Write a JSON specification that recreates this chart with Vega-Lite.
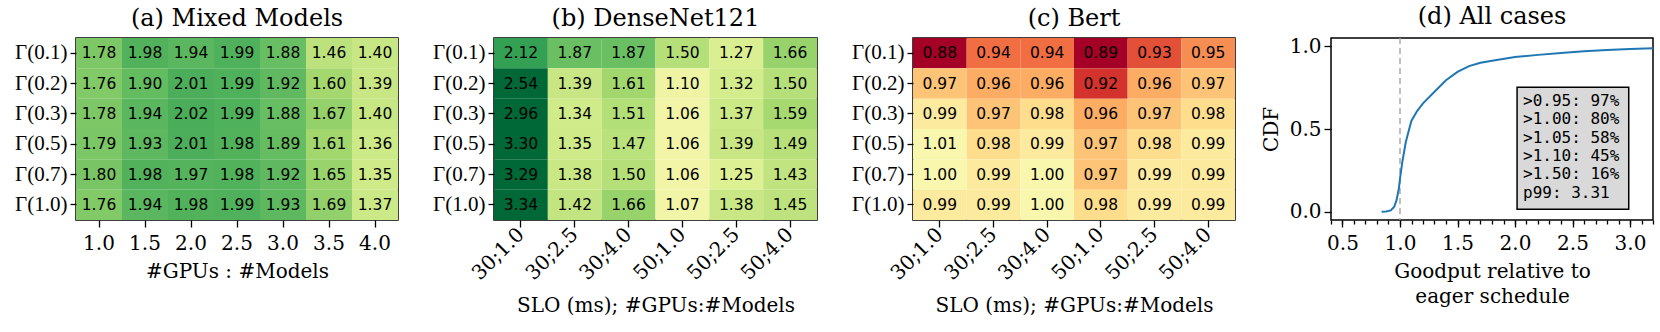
{
  "$schema": "https://vega.github.io/schema/vega-lite/v6.json",
  "background": "white",
  "padding": {"left": 13, "top": 4, "right": 2, "bottom": 2},
  "bounds": "flush",
  "spacing": 96,
  "config": {
    "view": {"stroke": "black", "strokeWidth": 1.5},
    "title": {"font": "DejaVu Serif", "fontSize": 24, "fontWeight": "normal", "color": "black", "offset": 7, "frame": "group"},
    "axis": {"labelFont": "DejaVu Serif", "labelFontSize": 20, "labelColor": "black", "titleFont": "DejaVu Serif", "titleFontSize": 20, "titleFontWeight": "normal", "titleColor": "black", "tickColor": "black", "tickWidth": 1.3, "tickSize": 6, "domain": false, "grid": false, "labelPadding": 3},
    "axisX": {"tickSize": 7, "labelPadding": 6, "titlePadding": 8}
  },
  "datasets": {
    "a": [
      {"row": "Γ(0.1)", "col": "1.0", "v": 1.78}, {"row": "Γ(0.1)", "col": "1.5", "v": 1.98}, {"row": "Γ(0.1)", "col": "2.0", "v": 1.94}, {"row": "Γ(0.1)", "col": "2.5", "v": 1.99}, {"row": "Γ(0.1)", "col": "3.0", "v": 1.88}, {"row": "Γ(0.1)", "col": "3.5", "v": 1.46}, {"row": "Γ(0.1)", "col": "4.0", "v": 1.40},
      {"row": "Γ(0.2)", "col": "1.0", "v": 1.76}, {"row": "Γ(0.2)", "col": "1.5", "v": 1.90}, {"row": "Γ(0.2)", "col": "2.0", "v": 2.01}, {"row": "Γ(0.2)", "col": "2.5", "v": 1.99}, {"row": "Γ(0.2)", "col": "3.0", "v": 1.92}, {"row": "Γ(0.2)", "col": "3.5", "v": 1.60}, {"row": "Γ(0.2)", "col": "4.0", "v": 1.39},
      {"row": "Γ(0.3)", "col": "1.0", "v": 1.78}, {"row": "Γ(0.3)", "col": "1.5", "v": 1.94}, {"row": "Γ(0.3)", "col": "2.0", "v": 2.02}, {"row": "Γ(0.3)", "col": "2.5", "v": 1.99}, {"row": "Γ(0.3)", "col": "3.0", "v": 1.88}, {"row": "Γ(0.3)", "col": "3.5", "v": 1.67}, {"row": "Γ(0.3)", "col": "4.0", "v": 1.40},
      {"row": "Γ(0.5)", "col": "1.0", "v": 1.79}, {"row": "Γ(0.5)", "col": "1.5", "v": 1.93}, {"row": "Γ(0.5)", "col": "2.0", "v": 2.01}, {"row": "Γ(0.5)", "col": "2.5", "v": 1.98}, {"row": "Γ(0.5)", "col": "3.0", "v": 1.89}, {"row": "Γ(0.5)", "col": "3.5", "v": 1.61}, {"row": "Γ(0.5)", "col": "4.0", "v": 1.36},
      {"row": "Γ(0.7)", "col": "1.0", "v": 1.80}, {"row": "Γ(0.7)", "col": "1.5", "v": 1.98}, {"row": "Γ(0.7)", "col": "2.0", "v": 1.97}, {"row": "Γ(0.7)", "col": "2.5", "v": 1.98}, {"row": "Γ(0.7)", "col": "3.0", "v": 1.92}, {"row": "Γ(0.7)", "col": "3.5", "v": 1.65}, {"row": "Γ(0.7)", "col": "4.0", "v": 1.35},
      {"row": "Γ(1.0)", "col": "1.0", "v": 1.76}, {"row": "Γ(1.0)", "col": "1.5", "v": 1.94}, {"row": "Γ(1.0)", "col": "2.0", "v": 1.98}, {"row": "Γ(1.0)", "col": "2.5", "v": 1.99}, {"row": "Γ(1.0)", "col": "3.0", "v": 1.93}, {"row": "Γ(1.0)", "col": "3.5", "v": 1.69}, {"row": "Γ(1.0)", "col": "4.0", "v": 1.37}
    ],
    "b": [
      {"row": "Γ(0.1)", "col": "30;1.0", "v": 2.12}, {"row": "Γ(0.1)", "col": "30;2.5", "v": 1.87}, {"row": "Γ(0.1)", "col": "30;4.0", "v": 1.87}, {"row": "Γ(0.1)", "col": "50;1.0", "v": 1.50}, {"row": "Γ(0.1)", "col": "50;2.5", "v": 1.27}, {"row": "Γ(0.1)", "col": "50;4.0", "v": 1.66},
      {"row": "Γ(0.2)", "col": "30;1.0", "v": 2.54}, {"row": "Γ(0.2)", "col": "30;2.5", "v": 1.39}, {"row": "Γ(0.2)", "col": "30;4.0", "v": 1.61}, {"row": "Γ(0.2)", "col": "50;1.0", "v": 1.10}, {"row": "Γ(0.2)", "col": "50;2.5", "v": 1.32}, {"row": "Γ(0.2)", "col": "50;4.0", "v": 1.50},
      {"row": "Γ(0.3)", "col": "30;1.0", "v": 2.96}, {"row": "Γ(0.3)", "col": "30;2.5", "v": 1.34}, {"row": "Γ(0.3)", "col": "30;4.0", "v": 1.51}, {"row": "Γ(0.3)", "col": "50;1.0", "v": 1.06}, {"row": "Γ(0.3)", "col": "50;2.5", "v": 1.37}, {"row": "Γ(0.3)", "col": "50;4.0", "v": 1.59},
      {"row": "Γ(0.5)", "col": "30;1.0", "v": 3.30}, {"row": "Γ(0.5)", "col": "30;2.5", "v": 1.35}, {"row": "Γ(0.5)", "col": "30;4.0", "v": 1.47}, {"row": "Γ(0.5)", "col": "50;1.0", "v": 1.06}, {"row": "Γ(0.5)", "col": "50;2.5", "v": 1.39}, {"row": "Γ(0.5)", "col": "50;4.0", "v": 1.49},
      {"row": "Γ(0.7)", "col": "30;1.0", "v": 3.29}, {"row": "Γ(0.7)", "col": "30;2.5", "v": 1.38}, {"row": "Γ(0.7)", "col": "30;4.0", "v": 1.50}, {"row": "Γ(0.7)", "col": "50;1.0", "v": 1.06}, {"row": "Γ(0.7)", "col": "50;2.5", "v": 1.25}, {"row": "Γ(0.7)", "col": "50;4.0", "v": 1.43},
      {"row": "Γ(1.0)", "col": "30;1.0", "v": 3.34}, {"row": "Γ(1.0)", "col": "30;2.5", "v": 1.42}, {"row": "Γ(1.0)", "col": "30;4.0", "v": 1.66}, {"row": "Γ(1.0)", "col": "50;1.0", "v": 1.07}, {"row": "Γ(1.0)", "col": "50;2.5", "v": 1.38}, {"row": "Γ(1.0)", "col": "50;4.0", "v": 1.45}
    ],
    "c": [
      {"row": "Γ(0.1)", "col": "30;1.0", "v": 0.88}, {"row": "Γ(0.1)", "col": "30;2.5", "v": 0.94}, {"row": "Γ(0.1)", "col": "30;4.0", "v": 0.94}, {"row": "Γ(0.1)", "col": "50;1.0", "v": 0.89}, {"row": "Γ(0.1)", "col": "50;2.5", "v": 0.93}, {"row": "Γ(0.1)", "col": "50;4.0", "v": 0.95},
      {"row": "Γ(0.2)", "col": "30;1.0", "v": 0.97}, {"row": "Γ(0.2)", "col": "30;2.5", "v": 0.96}, {"row": "Γ(0.2)", "col": "30;4.0", "v": 0.96}, {"row": "Γ(0.2)", "col": "50;1.0", "v": 0.92}, {"row": "Γ(0.2)", "col": "50;2.5", "v": 0.96}, {"row": "Γ(0.2)", "col": "50;4.0", "v": 0.97},
      {"row": "Γ(0.3)", "col": "30;1.0", "v": 0.99}, {"row": "Γ(0.3)", "col": "30;2.5", "v": 0.97}, {"row": "Γ(0.3)", "col": "30;4.0", "v": 0.98}, {"row": "Γ(0.3)", "col": "50;1.0", "v": 0.96}, {"row": "Γ(0.3)", "col": "50;2.5", "v": 0.97}, {"row": "Γ(0.3)", "col": "50;4.0", "v": 0.98},
      {"row": "Γ(0.5)", "col": "30;1.0", "v": 1.01}, {"row": "Γ(0.5)", "col": "30;2.5", "v": 0.98}, {"row": "Γ(0.5)", "col": "30;4.0", "v": 0.99}, {"row": "Γ(0.5)", "col": "50;1.0", "v": 0.97}, {"row": "Γ(0.5)", "col": "50;2.5", "v": 0.98}, {"row": "Γ(0.5)", "col": "50;4.0", "v": 0.99},
      {"row": "Γ(0.7)", "col": "30;1.0", "v": 1.00}, {"row": "Γ(0.7)", "col": "30;2.5", "v": 0.99}, {"row": "Γ(0.7)", "col": "30;4.0", "v": 1.00}, {"row": "Γ(0.7)", "col": "50;1.0", "v": 0.97}, {"row": "Γ(0.7)", "col": "50;2.5", "v": 0.99}, {"row": "Γ(0.7)", "col": "50;4.0", "v": 0.99},
      {"row": "Γ(1.0)", "col": "30;1.0", "v": 0.99}, {"row": "Γ(1.0)", "col": "30;2.5", "v": 0.99}, {"row": "Γ(1.0)", "col": "30;4.0", "v": 1.00}, {"row": "Γ(1.0)", "col": "50;1.0", "v": 0.98}, {"row": "Γ(1.0)", "col": "50;2.5", "v": 0.99}, {"row": "Γ(1.0)", "col": "50;4.0", "v": 0.99}
    ],
    "cdf": [
      {"x": 0.84, "p": 0.0}, {"x": 0.88, "p": 0.002}, {"x": 0.92, "p": 0.008}, {"x": 0.95, "p": 0.03}, {"x": 0.97, "p": 0.07}, {"x": 0.99, "p": 0.14}, {"x": 1.0, "p": 0.2}, {"x": 1.02, "p": 0.3}, {"x": 1.05, "p": 0.42}, {"x": 1.08, "p": 0.5}, {"x": 1.1, "p": 0.55}, {"x": 1.15, "p": 0.61}, {"x": 1.2, "p": 0.655}, {"x": 1.3, "p": 0.725}, {"x": 1.4, "p": 0.795}, {"x": 1.5, "p": 0.845}, {"x": 1.6, "p": 0.88}, {"x": 1.7, "p": 0.9}, {"x": 1.8, "p": 0.913}, {"x": 2.0, "p": 0.935}, {"x": 2.2, "p": 0.948}, {"x": 2.4, "p": 0.96}, {"x": 2.6, "p": 0.97}, {"x": 2.8, "p": 0.977}, {"x": 3.0, "p": 0.983}, {"x": 3.2, "p": 0.988}, {"x": 3.31, "p": 0.99}
    ],
    "vline": [{"x": 1.0}],
    "box": [{"x1": 2.018, "x2": 2.989, "y1": 0.0145, "y2": 0.753}],
    "boxtext": [
      {"x": 2.07, "y": 0.668, "t": ">0.95: 97%"},
      {"x": 2.07, "y": 0.558, "t": ">1.00: 80%"},
      {"x": 2.07, "y": 0.447, "t": ">1.05: 58%"},
      {"x": 2.07, "y": 0.336, "t": ">1.10: 45%"},
      {"x": 2.07, "y": 0.226, "t": ">1.50: 16%"},
      {"x": 2.07, "y": 0.115, "t": "p99: 3.31"}
    ]
  },
  "hconcat": [
    {
      "width": 322, "height": 182,
      "title": "(a) Mixed Models",
      "data": {"name": "a"},
      "encoding": {
        "x": {"field": "col", "type": "ordinal", "sort": null, "scale": {"paddingInner": 0, "paddingOuter": 0}, "axis": {"title": "#GPUs : #Models", "labelAngle": 0}},
        "y": {"field": "row", "type": "ordinal", "sort": null, "scale": {"paddingInner": 0, "paddingOuter": 0}, "axis": {"title": null, "labelFont": "Liberation Serif", "labelFontSize": 21}}
      },
      "layer": [
        {"mark": {"type": "rect"}, "encoding": {"color": {"field": "v", "type": "quantitative", "scale": {"scheme": "redyellowgreen", "domain": [0.9, 2.5], "domainMid": 1, "clamp": true}, "legend": null}}},
        {"mark": {"type": "text", "font": "DejaVu Sans", "fontSize": 15.5, "color": "black"}, "encoding": {"text": {"field": "v", "type": "quantitative", "format": ".2f"}}}
      ]
    },
    {
      "width": 323, "height": 182,
      "title": "(b) DenseNet121",
      "data": {"name": "b"},
      "encoding": {
        "x": {"field": "col", "type": "ordinal", "sort": null, "scale": {"paddingInner": 0, "paddingOuter": 0}, "axis": {"title": "SLO (ms); #GPUs:#Models", "labelAngle": -45, "labelAlign": "right", "labelBaseline": "middle", "labelPadding": 4, "titlePadding": 12}},
        "y": {"field": "row", "type": "ordinal", "sort": null, "scale": {"paddingInner": 0, "paddingOuter": 0}, "axis": {"title": null, "labelFont": "Liberation Serif", "labelFontSize": 21}}
      },
      "layer": [
        {"mark": {"type": "rect"}, "encoding": {"color": {"field": "v", "type": "quantitative", "scale": {"scheme": "redyellowgreen", "domain": [0.9, 2.5], "domainMid": 1, "clamp": true}, "legend": null}}},
        {"mark": {"type": "text", "font": "DejaVu Sans", "fontSize": 15.5, "color": "black"}, "encoding": {"text": {"field": "v", "type": "quantitative", "format": ".2f"}}}
      ]
    },
    {
      "width": 322, "height": 182,
      "title": "(c) Bert",
      "data": {"name": "c"},
      "encoding": {
        "x": {"field": "col", "type": "ordinal", "sort": null, "scale": {"paddingInner": 0, "paddingOuter": 0}, "axis": {"title": "SLO (ms); #GPUs:#Models", "labelAngle": -45, "labelAlign": "right", "labelBaseline": "middle", "labelPadding": 4, "titlePadding": 12}},
        "y": {"field": "row", "type": "ordinal", "sort": null, "scale": {"paddingInner": 0, "paddingOuter": 0}, "axis": {"title": null, "labelFont": "Liberation Serif", "labelFontSize": 21}}
      },
      "layer": [
        {"mark": {"type": "rect"}, "encoding": {"color": {"field": "v", "type": "quantitative", "scale": {"scheme": "redyellowgreen", "domain": [0.9, 2.5], "domainMid": 1, "clamp": true}, "legend": null}}},
        {"mark": {"type": "text", "font": "DejaVu Sans", "fontSize": 15.5, "color": "black"}, "encoding": {"text": {"field": "v", "type": "quantitative", "format": ".2f"}}}
      ]
    },
    {
      "width": 322, "height": 182,
      "title": "(d) All cases",
      "resolve": {"axis": {"x": "independent"}},
      "layer": [
        {
          "data": {"name": "vline"},
          "mark": {"type": "rule", "color": "#aaaaaa", "strokeDash": [6, 4], "strokeWidth": 1.5},
          "encoding": {"x": {"field": "x", "type": "quantitative", "scale": {"domain": [0.4, 3.2], "nice": false, "zero": false},
            "axis": {"orient": "bottom", "values": [0.4, 0.5, 0.6, 0.7, 0.8, 0.9, 1.0, 1.1, 1.2, 1.3, 1.4, 1.5, 1.6, 1.7, 1.8, 1.9, 2.0, 2.1, 2.2, 2.3, 2.4, 2.5, 2.6, 2.7, 2.8, 2.9, 3.0, 3.1, 3.2], "labels": false, "title": null, "tickSize": 4}}}
        },
        {
          "data": {"name": "cdf"},
          "mark": {"type": "line", "color": "#1f77b4", "strokeWidth": 2, "clip": true},
          "encoding": {
            "x": {"field": "x", "type": "quantitative", "scale": {"domain": [0.4, 3.2], "nice": false, "zero": false},
              "axis": {"orient": "bottom", "title": ["Goodput relative to", "eager schedule"], "titlePadding": 8, "titleLineHeight": 25,
                "values": [0.5, 1.0, 1.5, 2.0, 2.5, 3.0], "format": ".1f", "labelFlush": false, "tickSize": 7}},
            "y": {"field": "p", "type": "quantitative", "scale": {"domain": [-0.05, 1.05], "nice": false, "zero": false},
              "axis": {"title": "CDF", "values": [0, 0.5, 1], "format": ".1f", "tickSize": 7, "titlePadding": 8}}
          }
        },
        {
          "data": {"name": "box"},
          "mark": {"type": "rect", "fill": "#d9d9d9", "stroke": "black", "strokeWidth": 1.5},
          "encoding": {
            "x": {"field": "x1", "type": "quantitative", "axis": null}, "x2": {"field": "x2"},
            "y": {"field": "y1", "type": "quantitative"}, "y2": {"field": "y2"}
          }
        },
        {
          "data": {"name": "boxtext"},
          "mark": {"type": "text", "font": "DejaVu Sans Mono", "fontSize": 16, "align": "left", "baseline": "middle", "color": "black"},
          "encoding": {
            "x": {"field": "x", "type": "quantitative", "axis": null},
            "y": {"field": "y", "type": "quantitative"},
            "text": {"field": "t"}
          }
        }
      ]
    }
  ]
}
